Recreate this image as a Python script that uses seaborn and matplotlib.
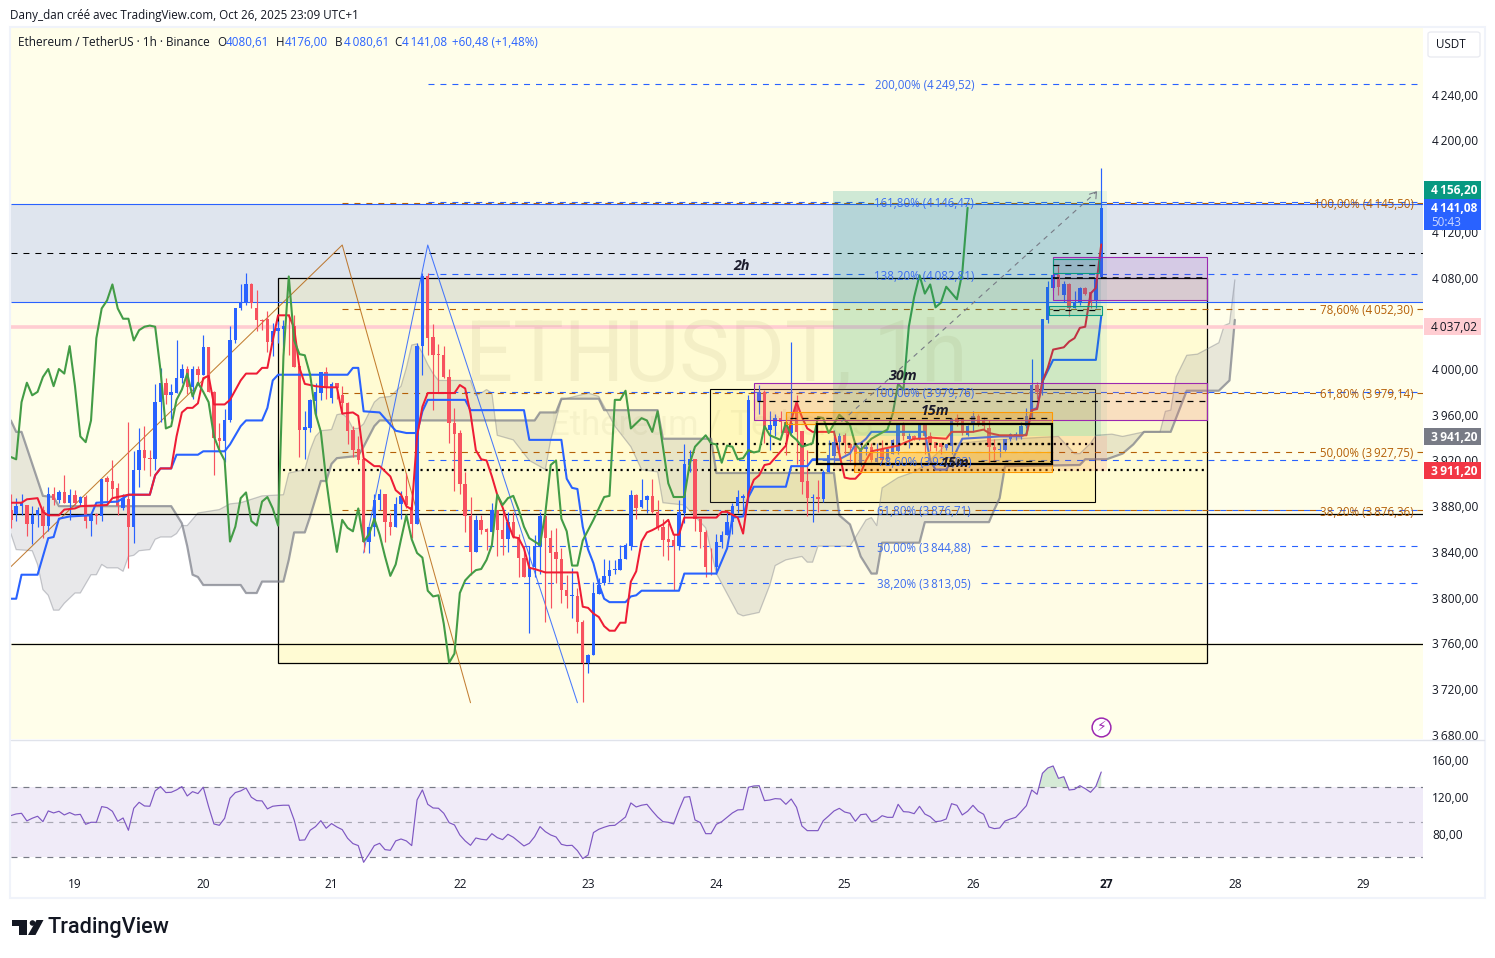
import numpy as np
import matplotlib
matplotlib.use('Agg')
import matplotlib.pyplot as plt
import seaborn as sns
from matplotlib.patches import Rectangle, Polygon, Circle, FancyBboxPatch
from matplotlib.transforms import blended_transform_factory

W, H = 1495, 958

# hourly candles, hour 0 = Oct 19 00:00, first bar at hour -12
candle_dir = ("RBBRBBRBRB" "RBRBRBRBRR" "RBRBBRRBBR" "BBBRBRBRRR" "BBBBBRRRRB"
              "BBRRRBBBBR" "BRRRRRRBBB" "RRBBRRBBRR" "RRRRRRRBRR" "BRRBRRRBBB"
              "RRRRRBRRBB" "BBBBBBBRBB" "RRRRRBBBRR" "RRBBBBBBBR" "BRBBRRBRRR"
              "BRBBBBRRRB" "BRBRBBBRBR" "BRRRRBBRRB" "BRRRRBBBBB" "BBRBBBRBRB"
              "BRRBB")
highs = [3891,3887,3891,3881,3880,3879,3880,3897,3897,3894,
         3907,3895,3894,3889,3890,3872,3874,3904,3906,3920,
         3900,3891,3954,3928,3948,3950,3929,3987,4001,3992,
         3987,4025,4004,4003,4003,4003,4030,4019,3981,3953,
         3965,4038,4053,4074,4084,4075,4069,4044,4051,4040,
         4042,4043,4048,4047,4003,3963,3974,3988,3997,4002,
         3989,3988,3985,3971,3950,3941,3922,3862,3891,3895,
         3891,3874,3888,3893,3909,3883,4023,4084,4084,4039,
         4022,4020,4000,3966,3947,3910,3888,3872,3872,3861,
         3883,3877,3877,3875,3875,3856,3845,3845,3855,3875,
         3872,3859,3861,3843,3820,3826,3808,3780,3751,3814,
         3817,3834,3833,3833,3846,3848,3894,3891,3904,3890,
         3904,3885,3869,3865,3856,3885,3934,3929,3921,3869,
         3859,3843,3856,3858,3875,3883,3894,3891,3977,3974,
         3986,3982,3963,3961,3963,3961,4024,3977,3946,3929,
         3891,3903,3912,3938,3947,3944,3944,3935,3935,3935,
         3935,3935,3935,3938,3931,3939,3953,3954,3944,3942,
         3953,3953,3945,3936,3935,3934,3957,3961,3957,3951,
         3963,3961,3958,3955,3939,3935,3939,3944,3945,3954,
         3966,4009,3989,4044,4077,4082,4090,4077,4075,4068,
         4072,4072,4068,4079,4176]
body_tops = [3877,3880,3883,3881,3872,3877,3877,3891,3891,3892,
             3892,3890,3890,3888,3888,3872,3873,3904,3905,3902,
             3896,3887,3886,3912,3929,3929,3922,3971,3988,3988,
             3980,3992,4000,4000,4000,4000,4019,4019,3980,3940,
             3955,4025,4053,4059,4074,4074,4053,4043,4044,4033,
             4036,4038,4037,4038,4003,3949,3973,3980,3997,3997,
             3987,3988,3977,3970,3947,3930,3921,3862,3885,3891,
             3891,3866,3882,3889,3889,3879,4020,4081,4081,4028,
             4013,4012,3993,3953,3944,3899,3871,3868,3868,3860,
             3877,3877,3859,3866,3866,3853,3835,3827,3845,3871,
             3871,3852,3840,3834,3807,3802,3801,3779,3750,3804,
             3811,3819,3824,3825,3834,3846,3890,3890,3885,3889,
             3889,3875,3862,3851,3850,3875,3917,3921,3921,3869,
             3857,3827,3849,3855,3866,3880,3888,3889,3973,3972,
             3980,3980,3951,3957,3957,3954,3953,3970,3946,3902,
             3888,3888,3910,3925,3936,3941,3942,3934,3934,3931,
             3932,3932,3922,3930,3930,3938,3953,3953,3941,3941,
             3952,3953,3941,3936,3935,3934,3956,3957,3956,3950,
             3959,3959,3955,3948,3932,3930,3939,3943,3943,3950,
             3959,3986,3986,4044,4072,4082,4082,4074,4074,4059,
             4071,4071,4067,4079,4141.08]
body_bottoms = [3868,3873,3880,3864,3864,3872,3863,3863,3885,3885,
                3883,3883,3883,3883,3867,3867,3871,3871,3901,3895,
                3880,3878,3862,3862,3912,3922,3921,3921,3971,3977,
                3977,3979,3992,3984,3984,3995,3995,3980,3940,3937,
                3937,3955,4025,4053,4058,4058,4043,4042,4024,4024,
                4033,4035,4037,4002,3947,3947,3948,3972,3979,3983,
                3975,3983,3970,3946,3929,3920,3849,3849,3862,3885,
                3866,3862,3862,3882,3881,3864,3864,4020,4027,4012,
                4012,3993,3953,3943,3899,3871,3840,3840,3859,3857,
                3857,3859,3851,3851,3853,3835,3818,3818,3827,3845,
                3852,3839,3834,3807,3801,3801,3779,3743,3743,3750,
                3803,3813,3819,3824,3824,3834,3845,3878,3879,3885,
                3875,3862,3850,3849,3845,3845,3874,3916,3869,3857,
                3827,3827,3827,3849,3855,3866,3880,3887,3889,3972,
                3972,3948,3947,3950,3954,3944,3944,3945,3901,3887,
                3887,3886,3886,3910,3924,3936,3935,3931,3926,3916,
                3930,3920,3919,3920,3921,3926,3928,3941,3939,3939,
                3939,3941,3935,3931,3932,3931,3933,3954,3944,3942,
                3951,3951,3950,3932,3929,3929,3929,3939,3941,3942,
                3950,3958,3980,3982,4043,4071,4072,4065,4053,4053,
                4058,4066,4059,4060,4080.61]
lows = [3861,3867,3872,3854,3847,3862,3852,3858,3881,3883,
        3883,3868,3881,3880,3861,3854,3864,3867,3883,3888,
        3872,3877,3826,3848,3897,3912,3906,3912,3954,3969,
        3956,3979,3988,3978,3974,3986,3995,3980,3907,3928,
        3919,3954,4023,4052,4056,4053,4033,4034,4015,4011,
        4023,4017,4012,4002,3923,3921,3945,3957,3973,3974,
        3970,3974,3961,3934,3923,3917,3840,3839,3854,3877,
        3849,3855,3862,3869,3878,3852,3864,3995,4012,3964,
        3979,3992,3935,3893,3891,3857,3820,3840,3856,3842,
        3857,3836,3837,3840,3852,3818,3818,3769,3818,3821,
        3779,3791,3813,3795,3791,3782,3769,3709,3734,3750,
        3803,3811,3814,3821,3824,3834,3842,3869,3878,3874,
        3874,3859,3836,3833,3807,3842,3865,3910,3858,3843,
        3818,3820,3821,3843,3855,3856,3874,3877,3884,3964,
        3961,3935,3929,3941,3944,3925,3942,3917,3891,3871,
        3866,3875,3884,3910,3918,3926,3926,3919,3915,3915,
        3925,3919,3919,3916,3920,3926,3926,3938,3931,3938,
        3938,3926,3928,3928,3926,3929,3926,3950,3942,3941,
        3945,3950,3947,3918,3919,3923,3928,3937,3938,3939,
        3948,3957,3974,3977,4040,4069,4065,4059,4046,4053,
        4056,4065,4053,4053,4080.61]

# ichimoku lines, (hour, price) read at the bends
kijun_h = [-12,-11,-10,-7,-5,-4,-3,-1,3,4,8,10,14,15,16,18,19,23,24,28,29,31,32,35,36,37,38,51,52,53,54,57,60,62,64,65,66,73,74,
           84,85,91,92,93,94,95,96,97,98,99,100,103,104,105,106,113,114,120,122,123,125,126,127,133,134,137,138,143,145,
           146,147,148,149,159,160,161,163,164,166,173,177,178,179,180,181,183,191,192]
kijun_p = [3799,3799,3820,3820,3852,3853,3869,3871,3872,3883,3884,3890,3890,3907,3913,3913,3925,3925,3928,3928,3934,3950,3955,3955,3966,3990,3995,3995,4001,4001,3963,3962,3946,3944,3944,3963,3973,3973,3964,
           3964,3938,3938,3904,3896,3895,3862,3842,3830,3812,3799,3796,3796,3801,3802,3806,3806,3821,3821,3843,3870,3871,3888,3897,3897,3915,3915,3921,3921,3926,
           3934,3935,3939,3945,3945,3920,3912,3912,3919,3939,3941,3941,3943,3964,3966,3989,4008,4008,4046]
tenkan_h = [-12,-10,-9,-7,-6,-5,-3,-2,0,1,6,7,8,10,14,15,16,18,19,20,21,22,23,24,25,26,28,29,31,32,34,35,36,37,38,40,41,42,43,45,47,49,50,52,53,54,56,57,59,60,61,62,63,64,65,66,71,72,73,74,75,76,77,78,79,
            80,81,82,83,84,85,86,88,94,95,96,97,98,99,100,101,102,103,104,105,106,107,108,110,111,112,113,114,120,121,122,124,125,126,127,128,129,130,133,134,135,136,137,138,142,143,144,145,
            146,147,148,149,151,153,154,156,157,159,160,163,164,168,170,171,173,178,179,180,181,182,183,185,186,187,188,189,190,191,192]
tenkan_p = [3883,3883,3886,3887,3875,3872,3872,3877,3878,3880,3881,3887,3888,3890,3890,3907,3913,3913,3941,3962,3966,3966,3970,3992,3994,3969,3969,3973,3990,3996,3996,4001,4001,4025,4047,4047,4036,4001,3987,3985,3984,3984,3961,3962,3959,3922,3915,3915,3906,3894,3890,3880,3877,3941,3967,3979,3979,3986,3983,3961,3929,3921,3920,3906,3890,
            3879,3865,3853,3852,3843,3826,3825,3822,3822,3792,3791,3786,3783,3775,3771,3771,3778,3778,3814,3823,3849,3857,3859,3864,3868,3855,3855,3870,3870,3875,3875,3870,3856,3891,3903,3907,3916,3917,3933,3955,3971,3958,3948,3945,3945,3926,3905,3904,
            3904,3909,3920,3928,3930,3932,3933,3937,3939,3939,3940,3939,3945,3945,3947,3944,3942,3942,3964,3965,3989,4001,4017,4019,4024,4027,4036,4037,4066,4071,4109]
chikou_h = list(range(-12, 86)) + [87,88,89,90,91,92,93,94,95,97,99,100,101,102,103,104,106,107,108,109,110,111,112,114,115,116,118,119,120,121,122,123,124,125,126,127,128,129,130,132,133,134,135,136,138,139,140,141,143,145,
                                   146,147,148,149,152,153,154,155,156,157,158,159,160,161,162,163,165,166,167]
chikou_p = [3923,3921,3971,3988,3977,3980,3993,4000,3985,4000,3996,4020,3985,3941,3936,3955,4027,4053,4060,4074,4053,4044,4044,4025,4034,4037,4038,4037,3999,3948,3950,3973,3982,3996,3976,3988,3980,3971,3941,3929,3920,3849,3862,3887,3892,3867,3863,3884,3888,3878,3863,4011,4081,4025,4013,4012,3995,3961,3945,3903,3869,3840,3868,3861,3858,3878,3849,3855,3869,3855,3836,3819,3829,3851,3872,3851,3839,3835,3806,3801,3802,3777,3743,3751,3804,3815,3820,3824,3825,3833,3846,3890,3881,3887,3889,3877,3862,3852,
            3846,3874,3916,3920,3869,3858,3828,3828,3850,3868,3888,3889,3973,3973,3981,3948,3957,3955,3945,3963,3932,3900,3888,3888,3917,3932,3942,3935,3934,3918,3933,3932,3921,3922,3929,3927,3928,3950,3942,3938,3953,3942,3938,3932,3935,3958,3957,3944,3960,3951,
            3934,3929,3934,3939,3947,3961,3987,3982,4037,4063,4082,4066,4074,4054,4058,4072,4061,4084,4141.08]
span_b_h = [-12,-11,-10,-6,-4,-3,18,20,21,22,23,24,31,32,34,35,39,40,41,43,44,46,47,48,49,53,54,56,57,86,87,90,91,98,99,109,110,119,120,
            142,143,145,147,149,150,151,158,159,171,172,173,174,188,189,193,196,198,200,205,208,214,216,217]
span_b_p = [3955,3945,3945,3889,3888,3880,3880,3865,3845,3820,3818,3811,3811,3804,3804,3814,3814,3833,3857,3857,3871,3902,3902,3917,3922,3924,3932,3950,3955,3955,3962,3962,3974,3974,3964,3964,3939,3939,3909,
            3909,3872,3864,3836,3821,3821,3848,3848,3866,3866,3877,3887,3915,3916,3921,3921,3926,3934,3945,3945,3981,3981,3990,4043]
span_a_h = [-12,-11,-8,-7,-6,-5,-4,-3,-2,0,1,3,4,5,6,8,9,10,11,12,14,15,16,18,19,20,21,23,27,29,31,35,39,40,43,44,45,46,48,49,50,51,52,53,54,56,57,59,61,62,63,64,65,66,67,68,74,75,76,77,78,79,
            82,85,88,89,91,96,98,101,104,106,109,110,114,118,120,124,125,128,130,131,133,136,137,138,139,145,148,149,150,151,154,157,159,163,172,184,187,188,190,191,194,196,200,203,204,205,206,208,210,212,214,215,216,217]
span_a_p = [3856,3842,3841,3829,3807,3802,3789,3789,3795,3804,3804,3820,3820,3829,3826,3826,3823,3836,3837,3841,3842,3851,3853,3853,3856,3863,3863,3874,3877,3882,3883,3889,3890,3909,3912,3929,3941,3946,3947,3960,3961,3957,3948,3948,3952,3971,3975,3976,3985,4001,4021,4022,4014,4004,3996,3990,3990,3977,3979,3982,3979,3942,
            3938,3920,3912,3938,3973,3979,3976,3950,3932,3912,3910,3883,3881,3861,3821,3786,3784,3787,3811,3828,3833,3836,3831,3831,3845,3845,3868,3870,3863,3896,3905,3910,3916,3934,3938,3941,3926,3926,3935,3942,3943,3941,3945,3945,3963,3964,3993,4012,4013,4018,4023,4038,4040,4078]

# rsi pane, one value per bar
rsi = [99.7,101.5,102.2,93.9,96.8,99,93.1,104.8,102.6,104.4,
       100.4,103,100.4,101.1,90.2,92.4,92.4,109.5,108.4,104.4,
       93.5,97.1,83.7,107.7,114.2,110.2,109.9,126.6,131.3,124.8,
       125.1,127.7,131.3,121.1,125.8,123.7,130.6,109.5,90.6,89.1,
       96.8,118.6,124.8,126.6,129.8,119.7,116,115.7,107,109.9,
       110.6,111,111,95,72.8,73.2,83.7,87.7,94.2,85.9,
       91,87.3,84.4,75,69.2,67,48.8,57.5,67,69.5,
       62.6,61.9,72.1,74.2,72.1,67,116.8,127.7,112,108,
       107.7,102.2,92,89.5,78.6,72.1,67.3,75.3,73.9,73.2,
       80,75.7,73.5,79.3,76.1,71.3,66.6,69.5,76.8,87.7,
       82.2,78.6,76.4,68.4,67,67.3,61.5,52.8,56.8,81.2,
       84.8,87,88.8,89.1,93.5,98.2,113.5,109.1,111,112,
       104.8,98.2,93.1,92.4,90.6,105.9,119.7,120.4,95,92,
       80,80,90.2,93.1,97.9,102.6,105.9,106.2,130.6,
       132,132.3,116,116.7,118.2,117.8,112,117.8,108.7,88.4,
       83.3,83.3,83.3,94.2,99.3,104.7,107.6,103.6,102.2,93.5,
       100.7,101.4,93.1,94.9,99.6,97.8,97.8,112,104,103.6,
       101.8,109.8,101.4,98.5,93.1,93.8,96,112.7,110.9,100.4,
       104.4,110.9,104.4,101.1,87.3,85.5,86.2,93.8,96,97.8,
       104,110.5,127.6,122.9,145.8,151.6,153.8,140.3,142.1,127.6,
       128.3,132.3,129.1,125.1,131.6,147.2]
rsi_levels = [130.9, 92.2, 54.6]

# fibonacci levels
blue_fib_labels = ['200,00%', '161,80%', '138,20%', '100,00%', '78,60%', '61,80%', '50,00%', '38,20%']
blue_fib_values = [4249.52, 4146.47, 4082.81, 3979.76, 3920.03, 3876.71, 3844.88, 3813.05]
brown_fib_labels = ['100,00%', '78,60%', '61,80%', '50,00%', '38,20%']
brown_fib_values = [4145.50, 4052.30, 3979.14, 3927.75, 3876.36]

price_ticks = list(range(3680, 4241, 40))
rsi_ticks = [80, 120, 160]
day_hours = [0, 24, 48, 72, 96, 120, 144, 168, 193, 217, 241]
day_labels = ['19', '20', '21', '22', '23', '24', '25', '26', '27', '28', '29']

BLUE = '#2962ff'
PINK = '#f7525f'
BROWN = '#b45f06'
PURPLE = '#9c27b0'
ORANGE = '#ff9800'
TEAL = '#089981'
GREY = '#787b86'
TEXT = '#131722'
BG = '#fffeea'

sns.set_theme(style='white')
plt.rcParams['font.family'] = ['Open Sans', 'DejaVu Sans']
plt.rcParams['lines.scale_dashes'] = False
plt.rcParams['axes.unicode_minus'] = False

fig = plt.figure(figsize=(W / 100, H / 100), dpi=100, facecolor='white')
ax = fig.add_axes([11 / W, 1 - 739 / H, 1412 / W, 711 / H], facecolor=BG)
ax2 = fig.add_axes([11 / W, 1 - 870 / H, 1412 / W, 130 / H], facecolor='white')
xlim = (-11.97, 252.2)
ax.set_xlim(xlim)
ax2.set_xlim(xlim)
ax.set_ylim(3676.25, 4298.4)
ax2.set_ylim(40.4, 182.1)


def fmt_price(v):
    s = f'{v:,.2f}'.replace(',', '\u2009').replace('.', ',')
    return s


def hline(y, h0, h1, color, lw=0.75, ls='-', z=3):
    ax.plot([h0, h1], [y, y], color=color, lw=lw, ls=ls, zorder=z, solid_capstyle='butt', dash_capstyle='butt')


def box(h0, h1, p0, p1, face, alpha, edge=None, lw=0.75, z=2):
    ax.add_patch(Rectangle((h0, p0), h1 - h0, p1 - p0, facecolor=matplotlib.colors.to_rgba(face, alpha),
                           edgecolor=edge if edge else 'none', lw=lw if edge else 0, zorder=z))


def ptext(x, y, s, **kw):
    kw.setdefault('va', 'center')
    kw.setdefault('color', TEXT)
    kw.setdefault('fontsize', 8.6)
    return fig.text(x / W, 1 - y / H, s, **kw)


DASH = (0, (4.3, 4.3))
DOT = (0, (1.5, 3.0))

# background bands
ax.axhspan(3760, 3873, color='white', lw=0, zorder=0.1)
ax.axhspan(4058.5, 4144.5, color='#dfe5ee', lw=0, zorder=0.1)

# watermark
ptext(716, 357, 'ETHUSDT, 1h', ha='center', fontsize=61, color=(0.45, 0.43, 0.2, 0.08), family='Roboto', zorder=1)
ptext(550, 425, 'Ethereum / TetherUS', ha='left', fontsize=25, color=(0.45, 0.43, 0.2, 0.06), family='Roboto', zorder=1)

# big context boxes
box(38, 211.8, 3743, 4080, '#ffeb3b', 0.13, 'black', 0.9, z=1)
box(118.8, 190.8, 3883.6, 3982.5, '#ffeb3b', 0.15, 'black', 0.8, z=1.2)

# cloud
cloud_xy = list(zip(span_a_h, span_a_p)) + list(zip(span_b_h, span_b_p))[::-1]
ax.add_patch(Polygon(cloud_xy, closed=True, facecolor=GREY, alpha=0.17, edgecolor='none', zorder=1.5))
sns.lineplot(x=span_a_h, y=span_a_p, ax=ax, color=GREY, lw=0.9, alpha=0.4, estimator=None, sort=False, zorder=1.6)
sns.lineplot(x=span_b_h, y=span_b_p, ax=ax, color=GREY, lw=1.6, alpha=0.7, estimator=None, sort=False, zorder=1.6)

# horizontal structure lines
hline(4101.5, xlim[0], xlim[1], 'black', 0.75, DASH)
hline(4144.5, xlim[0], xlim[1], BLUE, 0.8)
hline(4058.5, xlim[0], xlim[1], BLUE, 0.8)
hline(3873, xlim[0], xlim[1], 'black', 0.9)
hline(3759.5, xlim[0], xlim[1], 'black', 0.9)
hline(4037.02, xlim[0], xlim[1], '#ffcdd2', 2.6)
hline(3911.2, 39, 211.8, 'black', 1.6, DOT)
hline(3934, 118.8, 190.8, 'black', 1.6, DOT)
hline(3972, 127.6, 211.8, 'black', 0.9, DASH, z=7.5)
hline(3957, 133.8, 182.8, 'black', 0.9, DASH, z=7.5)
hline(3919.5, 169, 182.8, 'black', 0.9, DASH, z=7.5)
hline(4090.6, 183, 191.5, 'black', 0.9, DASH, z=7.5)
hline(4051.6, 183, 191, 'black', 0.9, DASH, z=7.5)
hline(4080, 183, 211.8, 'black', 1.1, DASH, z=7.5)

# fib levels, the dashes stop around each label
LABEL_NUDGE = 1.5
for lab, v in zip(blue_fib_labels, blue_fib_values):
    hline(v, 66, 148.5, BLUE, 0.8, DASH)
    hline(v, 169.5, xlim[1], BLUE, 0.8, DASH)
    ax.text(158.9, v - LABEL_NUDGE, f'{lab} ({fmt_price(v)})', ha='center', va='center', color='#3b6cf0', fontsize=8.3, zorder=8)
for lab, v in zip(brown_fib_labels, brown_fib_values):
    hline(v, 50, 233.2, BROWN, 0.8, DASH)
    hline(v, 251, xlim[1], BROWN, 0.8, DASH)
    ax.text(250.4, v - LABEL_NUDGE, f'{lab} ({fmt_price(v)})', ha='right', va='center', color=BROWN, fontsize=8.3, zorder=8)

# swing lines
sns.lineplot(x=[-12, 50, 74], y=[3827, 4108.5, 3708], ax=ax, color=BROWN, lw=0.75, alpha=0.8, estimator=None, sort=False, zorder=3)
sns.lineplot(x=[54, 66, 94], y=[3839, 4108.5, 3708], ax=ax, color=BLUE, lw=0.75, alpha=0.85, estimator=None, sort=False, zorder=3)

# candles
hours = np.arange(-12, -12 + len(highs))
up = np.array([c == 'B' for c in candle_dir])
colors = np.where(up, BLUE, PINK)
ax.vlines(hours, lows, highs, colors=colors, lw=0.85, zorder=5)
ax.bar(hours, np.array(body_tops) - np.array(body_bottoms), bottom=body_bottoms, width=0.64, color=colors, lw=0, zorder=5)

# ichimoku lines
sns.lineplot(x=kijun_h, y=kijun_p, ax=ax, color=BLUE, lw=1.5, estimator=None, sort=False, zorder=6)
sns.lineplot(x=tenkan_h, y=tenkan_p, ax=ax, color='#ee1c35', lw=1.45, estimator=None, sort=False, zorder=6)
sns.lineplot(x=chikou_h, y=chikou_p, ax=ax, color='#439c46', lw=1.5, estimator=None, sort=False, zorder=6)

# long position box
box(141.8, 193.1, 3941, 4156, TEAL, 0.07, z=7)
box(141.8, 191.9, 3941, 4156, TEAL, 0.13, z=7)
box(141.8, 193.1, 3911, 3941, '#f23645', 0.1, z=7)
ax.plot([143.4, 191.1], [3954, 4155], color=GREY, lw=0.8, ls=(0, (3.5, 3.5)), zorder=7.2)
ax.plot([189.8, 191.1, 191.0], [4153, 4155, 4149], color=GREY, lw=0.8, zorder=7.2)

# supply and demand zones
box(127, 211.8, 3955.4, 3987.8, '#e57373', 0.2, PURPLE, 0.8, z=7)
box(183, 211.8, 4060, 4097.6, PURPLE, 0.14, PURPLE, 0.8, z=7)
box(183, 191.6, 4084, 4096, TEAL, 0.15, TEAL, 0.8, z=7.1)
box(182.3, 192.1, 4047, 4055, TEAL, 0.15, TEAL, 0.8, z=7.1)
box(133, 182.8, 3952, 3962, ORANGE, 0.3, ORANGE, 0.8, z=7.1)
box(145.7, 182.8, 3910, 3927, ORANGE, 0.3, ORANGE, 0.8, z=7.1)
box(138.8, 182.8, 3916.5, 3951.6, '#ffeb3b', 0.15, 'black', 1.6, z=7.1)
hline(3934, 138.8, 182.8, 'black', 1.6, DOT, z=7.2)

# timeframe tags
for h_, p_, s in [(124.8, 4090, '2h'), (155, 3994, '30m'), (161, 3963, '15m'), (164.6, 3918, '15m')]:
    ax.text(h_, p_, s, style='italic', fontweight='bold', fontsize=10.3, color='#1c1c2c', ha='center', va='center', zorder=9)

# earnings style marker
ax.plot([192], [3686.8], marker='o', ms=13.5, mfc='white', mec=PURPLE, mew=1.1, zorder=9, clip_on=False)
ax.text(192, 3686.8, '\u26a1', color=PURPLE, fontsize=10, ha='center', va='center', family='DejaVu Sans', zorder=10)

# price axis
ax.yaxis.tick_right()
ax.set_yticks(price_ticks)
ax.set_yticklabels([fmt_price(v) for v in price_ticks], fontsize=8.6, color=TEXT)
ax.tick_params(axis='y', length=0, pad=6.5)
ax.set_xticks([])
ax.grid(False)
for s in ax.spines.values():
    s.set_visible(False)
ax.set_xlabel('')
ax.set_ylabel('')

# last price tags
tx = blended_transform_factory(ax.transAxes, ax.transData)
for top, bottom, face, s, col in [(4156.2 + 8, 4156.2 - 7.5, TEAL, '4156,20', 'white'),
                                  (4148.5, 4121.5, BLUE, '4141,08', 'white'),
                                  (4037.02 + 7.5, 4037.02 - 7.5, '#ffcdd2', '4037,02', TEXT),
                                  (3941.2 + 7.5, 3941.2 - 7.5, GREY, '3941,20', 'white'),
                                  (3911.2 + 7.5, 3911.2 - 7.5, '#f23645', '3911,20', 'white')]:
    ax.add_patch(Rectangle((1.0007, bottom), 57 / 1412, top - bottom, transform=tx, facecolor=face, edgecolor='none', clip_on=False, zorder=20))
    s2 = s[0] + '\u2009' + s[1:]
    yy = top - 8.4
    ax.text(1 + 8 / 1412, yy, s2, transform=tx, color=col, fontsize=8.6, fontweight='bold' if col == 'white' else 'normal', va='center', ha='left', clip_on=False, zorder=21)
ax.text(1 + 8 / 1412, 4128, '50:43', transform=tx, color='#cdd8ff', fontsize=8.4, va='center', ha='left', clip_on=False, zorder=21)

# rsi pane
ax2.axhspan(rsi_levels[2], rsi_levels[0], color='#7e57c2', alpha=0.115, lw=0, zorder=1)
rsi_h = np.arange(-12, -12 + len(rsi))
rsi_arr = np.array(rsi)
ax2.fill_between(rsi_h, rsi_levels[0], rsi_arr, where=rsi_arr > rsi_levels[0], interpolate=True, color='#43a047', alpha=0.22, lw=0, zorder=1.2)
for lev, al in zip(rsi_levels, [1.0, 0.6, 1.0]):
    ax2.axhline(lev, color=GREY, lw=0.85, ls=DASH, alpha=al, zorder=2)
sns.lineplot(x=rsi_h, y=rsi, ax=ax2, color='#7e57c2', lw=0.85, estimator=None, sort=False, zorder=3)
ax2.yaxis.tick_right()
ax2.set_yticks(rsi_ticks)
ax2.set_yticklabels([f'{v},00' for v in rsi_ticks], fontsize=8.6, color=TEXT)
ax2.set_xticks(day_hours)
ax2.set_xticklabels(day_labels, fontsize=8.6, color=TEXT)
ax2.get_xticklabels()[8].set_fontweight('bold')
ax2.tick_params(axis='y', length=0, pad=6.5)
ax2.tick_params(axis='x', length=0, pad=6)
ax2.grid(False)
for s in ax2.spines.values():
    s.set_visible(False)
ax2.set_xlabel('')
ax2.set_ylabel('')

# frame, header and branding
fig.add_artist(Rectangle((1424 / W, 1 - 746 / H), 60 / W, 6.5 / H, transform=fig.transFigure, facecolor='white', edgecolor='none', zorder=5))
fig.add_artist(Rectangle((10 / W, 1 - 897.5 / H), 1475 / W, 870.5 / H, transform=fig.transFigure, facecolor='none', edgecolor='#f0f3fa', lw=1.5, zorder=6))
fig.add_artist(plt.Line2D([11 / W, 1484 / W], [1 - 739.5 / H] * 2, color='#e0e3eb', lw=1, zorder=6))
fig.add_artist(FancyBboxPatch((1428 / W, 1 - 57 / H), 52 / W, 25 / H, boxstyle='round,pad=0,rounding_size=0.002', transform=fig.transFigure,
                              facecolor='white', edgecolor='#e8eaf0', lw=0.9, zorder=6))
ptext(1436, 45, 'USDT', fontsize=8.4, zorder=7)

ptext(10, 15.5, 'Dany_dan créé avec TradingView.com, Oct 26, 2025 23:09 UTC+1', fontsize=8.35)
ptext(18, 42.5, 'Ethereum / TetherUS · 1h · Binance', fontsize=8.5)
for x0, head, val in [(217, 'O', '4080,61'), (276, 'H', '4176,00'), (335, 'B', '4\u2009080,61'), (394, 'C', '4\u2009141,08')]:
    ptext(x0, 42.5, head, fontsize=8.4)
    ptext(x0 + 8.5, 42.5, val, fontsize=8.4, color=BLUE)
ptext(452, 42.5, '+60,48 (+1,48%)', fontsize=8.4, color=BLUE)

# TradingView mark
for art in [Polygon([[12, 920], [27, 920], [27, 935], [18.5, 935], [18.5, 926], [12, 926]], closed=True),
            Polygon([[36.5, 920], [43.5, 920], [35.5, 935], [28, 935]], closed=True),
            Circle((32.5, 923), 2.8)]:
    art.set_facecolor('#131722')
    art.set_edgecolor('none')
    art.set_transform(matplotlib.transforms.Affine2D().scale(1, -1).translate(0, H) + matplotlib.transforms.Affine2D().scale(fig.dpi * fig.get_figwidth() / W, fig.dpi * fig.get_figheight() / H))
    fig.add_artist(art)
ptext(48, 928, 'TradingView', fontsize=15.6, family='Roboto', fontweight='medium')

fig.savefig('out.png', dpi=100, facecolor='white')
